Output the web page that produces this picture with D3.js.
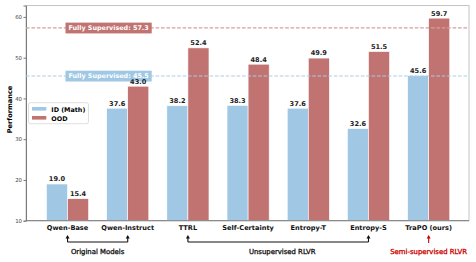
<!DOCTYPE html>
<html>
<head>
<meta charset="utf-8">
<script src="https://cdn.jsdelivr.net/npm/d3@7"></script>
<style>
  body { margin: 0; background: #fff; }
  svg text { font-family: "DejaVu Sans", sans-serif; }
</style>
</head>
<body>
<div id="chart"></div>
<script>
// data
var categories = ["Qwen-Base", "Qwen-Instruct", "TTRL", "Self-Certainty", "Entropy-T", "Entropy-S", "TraPO (ours)"];
var idValues = [19.0, 37.6, 38.2, 38.3, 37.6, 32.6, 45.6];
var oodValues = [15.4, 43.0, 52.4, 48.4, 49.9, 51.5, 59.7];
var yTicks = [10, 20, 30, 40, 50, 60];
var refValues = [57.3, 45.5];          // fully supervised OOD, ID
var groupNames = ["Original Models", "Unsupervised RLVR", "Semi-supervised RLVR"];
var groupFrom = [0, 2, 6];
var groupTo = [1, 5, 6];

var blue = "#a0c8e4", red = "#c07370";
var W = 476, H = 262;
var pLeft = 26, pRight = 469, pTop = 5.5, pBottom = 220.7;

var svg = d3.select("#chart").append("svg")
  .attr("width", W).attr("height", H);

var x = d3.scaleLinear().domain([-0.69, 6.67]).range([pLeft, pRight]);
var y = d3.scaleLinear().domain([10, 62.8]).range([pBottom, pTop]);
var bw = x(0.35) - x(0);

// frame
svg.append("rect")
  .attr("x", pLeft).attr("y", pTop)
  .attr("width", pRight - pLeft).attr("height", pBottom - pTop)
  .style("fill", "none").style("stroke", "#c4c4c4").style("stroke-width", 1);

// bars
var g = svg.append("g");
g.selectAll(".idbar").data(idValues).enter().append("rect")
  .attr("class", "idbar")
  .attr("x", function(d, i) { return x(i) - bw; })
  .attr("y", function(d) { return y(d); })
  .attr("width", bw)
  .attr("height", function(d) { return y(10) - y(d); })
  .style("fill", blue).style("stroke", "#fff").style("stroke-width", 0.6);
g.selectAll(".oodbar").data(oodValues).enter().append("rect")
  .attr("class", "oodbar")
  .attr("x", function(d, i) { return x(i); })
  .attr("y", function(d) { return y(d); })
  .attr("width", bw)
  .attr("height", function(d) { return y(10) - y(d); })
  .style("fill", red).style("stroke", "#fff").style("stroke-width", 0.6);

// y axis
var yAxis = svg.append("g")
  .attr("transform", "translate(" + pLeft + ",0)")
  .call(d3.axisLeft(y).tickValues(yTicks).tickSize(2.5).tickPadding(1.5));
yAxis.select(".domain").style("stroke", "#7a7a7a").style("stroke-width", 1);
yAxis.selectAll(".tick line").style("stroke", "#7a7a7a");
yAxis.selectAll(".tick text").style("font-size", "5.4px").style("fill", "#444")
  .style("font-family", "DejaVu Sans");

// bottom spine
svg.append("line")
  .attr("x1", pLeft).attr("x2", pRight).attr("y1", pBottom).attr("y2", pBottom)
  .style("stroke", "#7a7a7a").style("stroke-width", 1);

// x labels
svg.selectAll(".xlab").data(categories).enter().append("text")
  .attr("x", function(d, i) { return x(i); })
  .attr("y", 230.3)
  .attr("text-anchor", "middle")
  .style("font-size", "6.6px").style("font-weight", "bold").style("fill", "#111")
  .text(function(d) { return d; });

// y label
svg.append("text")
  .attr("transform", "translate(12,109.5) rotate(-90)")
  .attr("text-anchor", "middle")
  .style("font-size", "6.6px").style("font-weight", "bold")
  .text("Performance");

// fully supervised reference lines
var refColors = ["rgb(214,160,158)", "rgb(168,205,233)"];
var refFill = [red, blue];
refValues.forEach(function(v, k) {
  svg.append("line")
    .attr("x1", pLeft).attr("x2", pRight)
    .attr("y1", y(v)).attr("y2", y(v))
    .style("stroke", refColors[k]).style("stroke-width", 1.1)
    .style("stroke-dasharray", "3.6,1.8");
  var t = svg.append("text")
    .attr("x", 68.5).attr("y", y(v) + 2.3)
    .style("font-size", "6.4px").style("font-weight", "bold")
    .style("fill", "#fff")
    .text("Fully Supervised: " + v.toFixed(1));
  var bb = t.node().getBBox();
  svg.insert("rect", function() { return t.node(); })
    .attr("x", bb.x - 3).attr("y", y(v) - 5.3)
    .attr("width", bb.width + 6).attr("height", 10.8)
    .style("fill", refFill[k]);
});

// value labels
svg.selectAll(".idval").data(idValues).enter().append("text")
  .attr("x", function(d, i) { return x(i) - bw / 2; })
  .attr("y", function(d) { return y(d) - 2.6; })
  .attr("text-anchor", "middle")
  .style("font-size", "6.6px").style("font-weight", "bold").style("fill", "#222")
  .text(function(d) { return d.toFixed(1); });
svg.selectAll(".oodval").data(oodValues).enter().append("text")
  .attr("x", function(d, i) { return x(i) + bw / 2; })
  .attr("y", function(d) { return y(d) - 2.6; })
  .attr("text-anchor", "middle")
  .style("font-size", "6.6px").style("font-weight", "bold").style("fill", "#222")
  .text(function(d) { return d.toFixed(1); });

// legend
var leg = svg.append("g");
leg.append("rect")
  .attr("x", 28.5).attr("y", 102.7).attr("width", 60).attr("height", 21).attr("rx", 2)
  .style("fill", "rgba(255,255,255,0.85)").style("stroke", "#d6d6d6").style("stroke-width", 0.8);
var legNames = ["ID (Math)", "OOD"];
var legColors = [blue, red];
legNames.forEach(function(n, k) {
  leg.append("rect")
    .attr("x", 32).attr("y", 107 + k * 9).attr("width", 14.3).attr("height", 3.6)
    .style("fill", legColors[k]);
  leg.append("text")
    .attr("x", 51.3).attr("y", 111.6 + k * 9)
    .style("font-size", "6.4px").style("font-weight", "bold")
    .text(n);
});

// brackets under the axis
function arrowUp(px, y0, y1, col) {
  svg.append("line")
    .attr("x1", px).attr("x2", px).attr("y1", y0).attr("y2", y1 + 3)
    .style("stroke", col).style("stroke-width", 1.1);
  svg.append("path")
    .attr("d", "M" + (px - 2) + "," + (y1 + 3.5) + "L" + px + "," + y1 + "L" + (px + 2) + "," + (y1 + 3.5) + "Z")
    .style("fill", col);
}
groupNames.forEach(function(n, k) {
  var a = x(groupFrom[k]), b = x(groupTo[k]);
  var col = k == 2 ? "#cc0000" : "#111";
  if (a != b) {
    svg.append("line")
      .attr("x1", a).attr("x2", b).attr("y1", 242).attr("y2", 242)
      .style("stroke", col).style("stroke-width", 1.1);
    arrowUp(a, 242, 235, col);
    arrowUp(b, 242, 235, col);
  } else {
    arrowUp(a, 243, 235, col);
  }
  svg.append("text")
    .attr("x", (a + b) / 2 + (k == 1 ? 4 : 0))
    .attr("y", 253.5)
    .attr("text-anchor", "middle")
    .style("font-size", "6.9px").style("font-weight", "normal")
    .style("fill", col).style("stroke", col).style("stroke-width", 0.3)
    .text(n);
});
</script>
</body>
</html>
